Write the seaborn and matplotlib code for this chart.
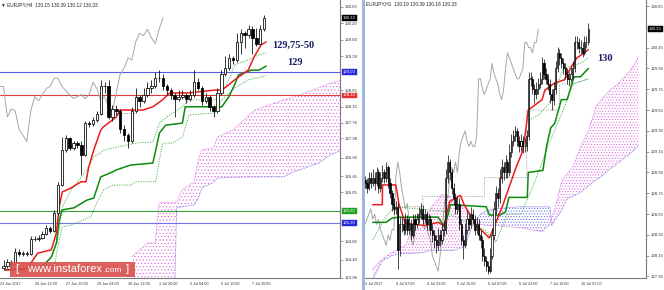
import numpy as np
import matplotlib
matplotlib.use("Agg")
import matplotlib.pyplot as plt
from matplotlib.patches import Rectangle
import seaborn as sns

# ================= EURJPY H4 (left pane) =================
h4_first_open = 124.20
h4_close = [124.25, 124.35, 124.30, 124.60, 124.55, 124.55, 124.55, 124.90, 124.90, 124.92,
            125.02, 125.18, 125.10, 125.55, 126.23, 127.09, 127.38, 127.14, 127.26, 127.22,
            126.97, 127.75, 127.72, 127.82, 127.97, 128.65, 128.65, 127.90, 128.10, 128.05,
            127.60, 127.45, 127.30, 128.05, 128.40, 128.30, 128.45, 128.60, 128.65, 128.85,
            128.85, 128.65, 128.55, 128.45, 128.35, 128.40, 128.45, 128.35, 128.45, 128.75,
            128.60, 128.30, 128.40, 128.15, 128.05, 128.50, 128.95, 129.10, 129.35, 129.30,
            129.75, 129.95, 129.90, 130.05, 129.85, 129.70, 130.05, 130.33]
h4_high = [124.38, 124.42, 124.40, 124.68, 124.65, 124.62, 124.62, 124.98, 124.97, 125.00,
           125.10, 125.25, 125.22, 125.62, 126.30, 127.41, 127.45, 127.42, 127.32, 127.30,
           127.30, 127.80, 127.80, 127.90, 128.05, 128.80, 128.75, 128.80, 128.20, 128.20,
           128.10, 127.70, 127.50, 128.15, 128.60, 128.45, 128.60, 128.75, 128.80, 129.00,
           129.05, 128.95, 128.70, 128.60, 128.50, 128.55, 128.55, 128.50, 128.55, 129.05,
           128.85, 128.65, 128.50, 128.45, 128.20, 128.60, 129.05, 129.40, 129.45, 129.40,
           129.95, 130.05, 130.00, 130.15, 130.12, 130.08, 130.15, 130.39]
h4_low = [124.15, 124.20, 124.20, 124.28, 124.50, 124.50, 124.50, 124.52, 124.85, 124.86,
          124.90, 125.00, 125.05, 125.08, 125.50, 126.20, 127.05, 127.08, 127.10, 127.15,
          126.48, 126.95, 127.65, 127.68, 127.78, 127.95, 128.50, 127.85, 127.80, 127.95,
          127.50, 127.30, 127.15, 127.25, 128.00, 128.15, 128.25, 128.40, 128.50, 128.60,
          128.75, 128.55, 128.45, 128.35, 127.90, 128.30, 128.35, 128.25, 128.30, 128.40,
          128.55, 128.20, 128.25, 128.05, 127.90, 128.00, 128.45, 128.90, 129.05, 129.20,
          129.25, 129.45, 129.60, 129.85, 129.45, 129.65, 129.68, 130.00]
h4_tick_bars = [-0.9, 8, 16, 24, 32, 40, 48, 56, 64]
h4_tick_labels = ["23 Jun 2017", "26 Jun 12:00", "27 Jun 20:00", "29 Jun 04:00", "30 Jun 12:00",
                  "3 Jul 20:00", "5 Jul 04:00", "6 Jul 12:00", "7 Jul 20:00"]
h4_price_ticks = [130.60, 130.20, 129.80, 129.39, 128.55, 128.15, 127.76, 127.38,
                  126.90, 126.45, 126.05, 124.85, 124.40, 123.96]
h4_tenkan_bar = [0.4, 5.5, 7.2, 8.8, 12.3, 13.6, 14.3, 15.1, 17.4, 19.9, 21.2, 21.9, 23.2, 25.0,
                 25.7, 29.0, 30.0, 30.8, 35.8, 38.4, 40.9, 42.7, 47.7, 49.3, 54.3, 56.1, 57.9, 59.4,
                 62.9, 64.4, 66.2, 67.5]
h4_tenkan = [124.15, 124.15, 124.34, 124.56, 124.64, 125.06, 125.69, 126.06, 126.16, 126.31,
             126.31, 126.67, 127.09, 127.58, 127.66, 127.90, 128.07, 128.07, 128.07, 128.15,
             128.32, 128.49, 128.49, 128.51, 128.56, 128.56, 128.69, 128.81, 129.05, 129.37,
             129.67, 129.74]
h4_kijun_bar = [0.4, 9.8, 12.3, 13.6, 14.3, 15.1, 18.1, 21.4, 23.2, 25.0, 27.5, 29.0, 32.6, 38.4,
                40.1, 41.7, 46.0, 46.7, 56.1, 57.9, 59.4, 60.4, 63.7, 65.7, 67.5]
h4_kijun = [124.15, 124.22, 124.46, 124.81, 125.37, 125.62, 125.67, 125.86, 125.91, 126.43,
            126.53, 126.60, 126.72, 126.77, 127.51, 127.70, 127.75, 128.15, 128.15, 128.39,
            128.69, 128.93, 129.05, 129.05, 129.15]
h4_dot_up_bar = [13.8, 15.1, 17.4, 21.4, 23.2, 25.0, 25.7, 34.1, 38.4, 40.1, 42.7, 46.0, 47.7,
                 54.3, 56.1, 57.9, 59.4, 62.9, 65.5, 67.5]
h4_dot_up = [124.81, 125.69, 126.11, 126.60, 126.92, 127.02, 127.09, 127.26, 127.29, 127.75,
             127.95, 128.15, 128.32, 128.32, 128.49, 128.81, 129.18, 129.30, 129.42, 129.47]
h4_dot_lo_bar = [13.1, 13.8, 15.1, 17.4, 22.4, 24.0, 25.7, 28.2, 32.6, 34.1, 39.1, 40.1, 40.9,
                 43.4, 46.0, 47.7, 54.3, 56.1, 59.4, 62.9, 67.5]
h4_dot_lo = [124.22, 124.64, 125.20, 125.25, 125.45, 125.79, 126.11, 126.23, 126.23, 126.31,
             126.31, 126.85, 127.26, 127.26, 127.41, 127.95, 128.00, 128.32, 128.61, 128.81, 128.91]
h4_gray_bar = [29.0, 34.1]
h4_gray = [128.00, 128.00]
h4_cloud_bar = [33, 37, 39, 40, 44, 44.5, 46, 49, 50, 51, 54, 55, 59, 64.5, 72, 74.5, 76, 81, 84, 87]
h4_span_a = [124.47, 124.81, 124.81, 125.80, 125.81, 125.81, 126.11, 126.31, 126.85, 127.09,
             127.14, 127.41, 127.58, 128.07, 128.32, 128.38, 128.44, 128.62, 128.73, 128.81]
h4_span_b = [123.60, 123.60, 123.60, 123.60, 123.60, 125.67, 125.70, 125.74, 125.90, 126.16,
             126.30, 126.40, 126.42, 126.43, 126.43, 126.55, 126.60, 126.77, 126.97, 127.09]
h4_levels = [129.00, 128.43, 125.60, 125.30]
h4_level_labels = ["129.00", "128.43", "125.60", "125.30"]
h4_last = 130.33

# ================= EURJPY H1 (right pane) =================
h1_first_open = 128.88
h1_close = [128.85, 128.80, 128.90, 128.85, 128.90, 128.85, 128.95, 128.80, 128.90, 128.95,
            128.90, 129.00, 128.85, 128.75, 128.65, 128.60, 128.62, 128.20, 128.45, 128.45,
            128.40, 128.50, 128.40, 128.45, 128.35, 128.50, 128.45, 128.50, 128.55, 128.60,
            128.50, 128.55, 128.45, 128.50, 128.40, 128.35, 128.30, 128.25, 128.35, 128.30,
            128.40, 128.40, 128.90, 129.05, 128.95, 128.80, 128.70, 128.60, 128.65, 128.45,
            128.30, 128.25, 128.40, 128.50, 128.45, 128.55, 128.50, 128.40, 128.45, 128.35,
            128.30, 128.15, 128.10, 128.05, 128.00, 128.15, 128.35, 128.60, 128.75, 128.70,
            128.90, 129.00, 128.95, 129.05, 128.95, 129.15, 129.25, 129.30, 129.35, 129.25,
            129.20, 129.25, 129.20, 129.20, 129.30, 129.85, 129.85, 129.75, 129.70, 129.75,
            129.80, 129.85, 130.00, 129.90, 129.85, 129.80, 129.70, 129.65, 129.75, 129.95,
            130.10, 130.05, 130.00, 129.95, 129.90, 129.85, 129.85, 129.90, 129.95, 130.20,
            130.20, 130.15, 130.15, 130.10, 130.20, 130.20, 130.33]
h1_high = [128.92, 128.90, 128.95, 128.95, 128.98, 128.95, 129.00, 128.98, 128.95, 129.02,
           128.98, 129.05, 129.02, 128.90, 128.78, 128.70, 128.68, 128.66, 128.52, 128.52,
           128.50, 128.56, 128.54, 128.52, 128.50, 128.55, 128.55, 128.56, 128.62, 128.66,
           128.64, 128.60, 128.58, 128.55, 128.54, 128.45, 128.40, 128.35, 128.42, 128.40,
           128.46, 128.48, 128.98, 129.12, 129.08, 128.98, 128.85, 128.75, 128.72, 128.70,
           128.50, 128.35, 128.46, 128.58, 128.55, 128.62, 128.60, 128.54, 128.52, 128.50,
           128.40, 128.34, 128.22, 128.15, 128.10, 128.22, 128.42, 128.68, 128.82, 128.80,
           128.98, 129.08, 129.05, 129.12, 129.08, 129.22, 129.32, 129.36, 129.40, 129.38,
           129.30, 129.32, 129.30, 129.28, 129.36, 129.92, 129.92, 129.88, 129.80, 129.82,
           129.86, 129.92, 130.06, 130.04, 129.95, 129.90, 129.85, 129.75, 129.82, 130.02,
           130.16, 130.14, 130.10, 130.05, 130.00, 129.95, 129.92, 129.96, 130.02, 130.26,
           130.26, 130.24, 130.22, 130.20, 130.26, 130.26, 130.39]
h1_low = [128.80, 128.75, 128.78, 128.80, 128.82, 128.78, 128.82, 128.75, 128.76, 128.86,
          128.85, 128.86, 128.80, 128.70, 128.58, 128.55, 128.55, 128.02, 128.15, 128.38,
          128.35, 128.36, 128.35, 128.36, 128.30, 128.32, 128.40, 128.42, 128.46, 128.50,
          128.45, 128.46, 128.40, 128.40, 128.35, 128.28, 128.22, 128.18, 128.20, 128.24,
          128.26, 128.34, 128.36, 128.85, 128.88, 128.74, 128.64, 128.55, 128.55, 128.40,
          128.25, 128.12, 128.22, 128.36, 128.40, 128.42, 128.45, 128.35, 128.36, 128.30,
          128.22, 128.10, 128.05, 128.00, 127.97, 127.98, 128.12, 128.30, 128.55, 128.62,
          128.66, 128.85, 128.88, 128.90, 128.90, 128.92, 129.10, 129.20, 129.25, 129.20,
          129.15, 129.16, 129.14, 129.15, 129.16, 129.26, 129.78, 129.70, 129.62, 129.66,
          129.70, 129.76, 129.80, 129.85, 129.80, 129.74, 129.62, 129.55, 129.60, 129.70,
          129.92, 129.98, 129.95, 129.90, 129.85, 129.80, 129.78, 129.82, 129.86, 129.92,
          130.14, 130.10, 130.10, 130.06, 130.08, 130.15, 130.18]
h1_tick_bars = [0, 16, 32, 48, 64, 80, 96, 112]
h1_tick_labels = ["3 Jul 2017", "4 Jul 07:00", "4 Jul 23:00", "5 Jul 15:00", "6 Jul 07:00",
                  "6 Jul 23:00", "7 Jul 15:00", "10 Jul 07:00"]
h1_price_ticks = [130.55, 130.15, 129.95, 129.75, 129.55, 129.35, 129.15, 128.95, 128.75,
                  128.55, 128.35, 128.15, 127.95]
h1_tenkan_bar = [4, 9, 9.1, 16, 17.7, 21, 31, 38, 41, 44, 49.5, 51.5, 58, 64.6, 66.7, 71.7, 74.7,
                 78.3, 81.8, 83.3, 84.8, 92, 93.4, 98.5, 103.5, 107, 110, 116]
h1_tenkan = [128.64, 128.64, 128.83, 128.83, 128.64, 128.46, 128.44, 128.47, 128.44, 128.67, 128.73,
             128.64, 128.44, 128.32, 128.41, 128.64, 128.80, 128.99, 129.15, 129.33, 129.55, 129.65,
             129.74, 129.81, 129.84, 129.96, 130.05, 130.13]
h1_kijun_bar = [4, 11, 14, 17.7, 38, 41.4, 44.4, 63, 64.6, 70, 73, 74.7, 84.3, 84.8, 92.4, 94.4,
                96.5, 98.5, 102, 105, 108.6, 112, 116]
h1_kijun = [128.47, 128.47, 128.51, 128.52, 128.52, 128.42, 128.64, 128.62, 128.54, 128.54, 128.57,
            128.71, 128.71, 128.95, 128.97, 129.21, 129.38, 129.42, 129.65, 129.65, 129.87, 129.87,
            129.95]
h1_dot_lo_bar = [4, 10, 15, 40, 62, 68, 74, 81, 88, 95, 103, 108, 116]
h1_dot_lo = [128.30, 128.50, 128.62, 128.58, 128.40, 128.28, 128.55, 128.55, 128.85, 129.20,
             129.55, 129.80, 129.85]
h1_dot_up_bar = [85, 90, 95, 99, 103, 112, 116]
h1_dot_up = [129.45, 129.50, 129.60, 129.75, 129.95, 130.00, 130.05]
h1_gray_bar = [18, 30, 30, 45, 62, 62, 76, 84, 84, 90, 101, 101, 108, 116]
h1_gray = [128.62, 128.62, 128.72, 128.72, 128.72, 128.90, 128.90, 128.90, 129.55, 129.55,
           129.55, 129.80, 129.80, 129.85]
h1_cloud_bar = [4, 6, 9, 14, 18, 21, 24, 30, 34, 40, 44, 46, 52, 56, 60, 63, 67, 80, 92, 96,
                97, 99, 102, 105, 108, 112, 116, 120, 122, 127, 130, 132, 139, 142]
h1_span_a = [128.02, 128.06, 128.12, 128.18, 128.22, 128.25, 128.38, 128.42, 128.60, 128.74,
             128.72, 128.66, 128.60, 128.50, 128.45, 128.44, 128.44, 128.42, 128.38, 128.45,
             128.52, 128.62, 128.86, 128.94, 129.00, 129.20, 129.35, 129.58, 129.63, 129.74,
             129.78, 129.81, 129.96, 130.06]
h1_span_b = [127.92, 127.99, 128.10, 128.15, 128.17, 128.17, 128.17, 128.18, 128.20, 128.20,
             128.20, 128.20, 128.24, 128.45, 128.55, 128.58, 128.60, 128.62, 128.62, 128.62,
             128.44, 128.50, 128.58, 128.70, 128.72, 128.76, 128.82, 128.88, 128.90, 128.98,
             129.02, 129.05, 129.15, 129.21]
h1_last = 130.33
chikou_shift = 26

header_h4 = "\u25BC EURJPY,H4  130.15 130.39 130.12 130.33"
header_h1 = "EURJPY,H1  130.19 130.39 130.18 130.33"

# ================= style =================
sns.set_style("white")
plt.rcParams["font.family"] = ["Liberation Sans", "DejaVu Sans"]
plt.rcParams["hatch.linewidth"] = 0.45

W, H = 664, 290
fig = plt.figure(figsize=(W / 100, H / 100), dpi=100)
axL = fig.add_axes([0, 12 / H, 340 / W, 278 / H])
axR = fig.add_axes([365 / W, 12 / H, 281 / W, 278 / H])


def sline(ax, x, y, color, lw, ls="-", z=3):
    sns.lineplot(x=np.asarray(x, float), y=np.asarray(y, float), ax=ax, color=color,
                 linewidth=lw, linestyle=ls, estimator=None, sort=False, legend=False, zorder=z)


def candles(ax, first_open, close, high, low, width, lw):
    c = np.asarray(close, float)
    o = np.r_[first_open, c[:-1]]
    h = np.asarray(high, float)
    l = np.asarray(low, float)
    x = np.arange(len(c))
    ax.vlines(x, l, h, color="black", lw=lw, zorder=4)
    up = c >= o
    ax.bar(x[up], np.maximum((c - o)[up], 0.004), bottom=o[up], width=width,
           facecolor="white", edgecolor="black", linewidth=lw, zorder=5)
    ax.bar(x[~up], (o - c)[~up], bottom=c[~up], width=width,
           facecolor="black", edgecolor="black", linewidth=lw, zorder=5)


def cloud(ax, bars, a, b, hatch):
    bars = np.asarray(bars, float)
    a = np.asarray(a, float)
    b = np.asarray(b, float)
    ax.fill_between(bars, a, b, where=a >= b, interpolate=True, facecolor="none",
                    edgecolor="#e066e0", hatch=hatch, linewidth=0, zorder=1)
    ax.fill_between(bars, a, b, where=a < b, interpolate=True, facecolor="none",
                    edgecolor="#6a6ae6", hatch=hatch, linewidth=0, zorder=1)
    sline(ax, bars, a, "#e066e0", 0.6, (0, (1, 1)), 1.5)
    sline(ax, bars, b, "#6a6ae6", 0.6, (0, (1, 1)), 1.5)


def style_axis(ax, xlim, ylim, yticks, xticks, xlabels):
    ax.set_xlim(*xlim)
    ax.set_ylim(*ylim)
    for s in ["top", "left"]:
        ax.spines[s].set_visible(False)
    for s in ["right", "bottom"]:
        ax.spines[s].set_color("#7a7a7a")
        ax.spines[s].set_linewidth(0.8)
    ax.yaxis.tick_right()
    ax.set_yticks(yticks)
    ax.set_yticklabels([f"{v:.2f}" for v in yticks])
    ax.set_xticks(xticks)
    ax.set_xticklabels(xlabels, ha="left")
    ax.tick_params(axis="y", length=2, width=0.5, pad=1.5, labelsize=3.1,
                   colors="#7a7a7a", labelcolor="#333333")
    ax.tick_params(axis="x", length=2, width=0.5, pad=1.2, labelsize=2.7,
                   colors="#7a7a7a", labelcolor="#333333")
    ax.set_xlabel("")
    ax.set_ylabel("")
    ax.grid(False)


def price_box(ax, value, text, face):
    ax.annotate(text, xy=(1, value), xycoords=ax.get_yaxis_transform(), xytext=(2.2, 0),
                textcoords="offset points", ha="left", va="center", fontsize=3.1,
                color="white", annotation_clip=False, zorder=20,
                bbox=dict(boxstyle="square,pad=0.2", fc=face, ec=face, lw=0.3))


# ================= left pane =================
cloud(axL, h4_cloud_bar, h4_span_a, h4_span_b, ".....")
level_colors = ["#5a5ae6", "#e03c3c", "#3aa03a", "#7474e6"]
for lv, col in zip(h4_levels, level_colors):
    axL.axhline(lv, color=col, lw=0.8, zorder=2)
cL = np.asarray(h4_close, float)
sline(axL, np.arange(len(cL)) - chikou_shift, cL, "#a6a6a6", 0.7, "-", 2.5)
sline(axL, h4_gray_bar, h4_gray, "#9a9a9a", 0.6, (0, (1.5, 1.5)), 2.6)
sline(axL, h4_dot_up_bar, h4_dot_up, "#3cb03c", 0.6, (0, (1.5, 1.5)), 2.7)
sline(axL, h4_dot_lo_bar, h4_dot_lo, "#3cb03c", 0.6, (0, (1.5, 1.5)), 2.7)
sline(axL, h4_kijun_bar, h4_kijun, "#0b8a0b", 1.1, "-", 3)
sline(axL, h4_tenkan_bar, h4_tenkan, "#ea1c1c", 1.1, "-", 3.1)
candles(axL, h4_first_open, h4_close, h4_high, h4_low, 0.62, 0.55)
style_axis(axL, (0.4, 86.5), (123.95, 130.77), h4_price_ticks, h4_tick_bars, h4_tick_labels)
price_box(axL, h4_last, f"{h4_last:.2f}", "black")
for lv, txt, col in zip(h4_levels, h4_level_labels, ["#2a2ad8", "#e03030", "#22a022", "#2a2ad8"]):
    price_box(axL, lv, txt, col)
axL.text(74.6, 129.67, "129,75-50", fontsize=7.5, fontweight="bold", color="#1c1c66",
         family=["Liberation Serif", "DejaVu Serif"], ha="center", va="center", zorder=20)
axL.text(74.8, 129.23, "129", fontsize=7.5, fontweight="bold", color="#1c1c66",
         family=["Liberation Serif", "DejaVu Serif"], ha="center", va="center", zorder=20)

# ================= right pane =================
cloud(axR, h1_cloud_bar, h1_span_a, h1_span_b, "......")
cR = np.asarray(h1_close, float)
sline(axR, np.arange(len(cR)) - chikou_shift, cR, "#a6a6a6", 0.7, "-", 2.5)
sline(axR, h1_gray_bar, h1_gray, "#9a9a9a", 0.6, (0, (1.5, 1.5)), 2.6)
sline(axR, h1_dot_lo_bar, h1_dot_lo, "#3cb03c", 0.6, (0, (1.5, 1.5)), 2.7)
sline(axR, h1_dot_up_bar, h1_dot_up, "#3cb03c", 0.6, (0, (1.5, 1.5)), 2.7)
sline(axR, h1_kijun_bar, h1_kijun, "#0b8a0b", 1.1, "-", 3)
sline(axR, h1_tenkan_bar, h1_tenkan, "#ea1c1c", 1.1, "-", 3.1)
candles(axR, h1_first_open, h1_close, h1_high, h1_low, 0.6, 0.5)
style_axis(axR, (4.04, 145.96), (127.935, 130.608), h1_price_ticks, h1_tick_bars, h1_tick_labels)
price_box(axR, h1_last, f"{h1_last:.2f}", "black")
axR.text(124.7, 130.05, "130", fontsize=7.5, fontweight="bold", color="#1c1c66",
         family=["Liberation Serif", "DejaVu Serif"], ha="center", va="center", zorder=20)

# clip the first H1 date label to the pane, as the terminal does
clip_rect = Rectangle((365 / W, 0), 1, 1, transform=fig.transFigure, fill=False)
fig.canvas.draw()
first = axR.xaxis.get_major_ticks()[0].label1
first.set_clip_on(True)
first.set_clip_path(clip_rect)

# pane divider
fig.add_artist(Rectangle((362 / W, 0), 3 / W, 1, transform=fig.transFigure,
                         facecolor="#9cb9dd", edgecolor="none", zorder=30))

# headers
fig.text(1 / W, 1 - 5 / H, header_h4, fontsize=3.4, color="#222222", va="center", ha="left")
fig.text(366 / W, 1 - 4 / H, header_h1, fontsize=3.4, color="#222222", va="center", ha="left")

# watermark
fig.add_artist(Rectangle((10 / W, 13 / H), 125 / W, 15 / H, transform=fig.transFigure,
                         facecolor="#d9534f", edgecolor="none", alpha=0.92, zorder=40))
wy = (290 - 269.5) / H
fig.text(15 / W, wy, "[", fontsize=8, color="white", va="center", ha="left", zorder=41)
fig.text(27 / W, wy, "www.instaforex", fontsize=8, color="white", va="center", ha="left", zorder=41)
fig.text(103 / W, wy - 0.5 / H, ".com", fontsize=6, color="white", va="center", ha="left", zorder=41)
fig.text(126 / W, wy, "]", fontsize=8, color="white", va="center", ha="left", zorder=41)

fig.savefig("out.png", dpi=100)
